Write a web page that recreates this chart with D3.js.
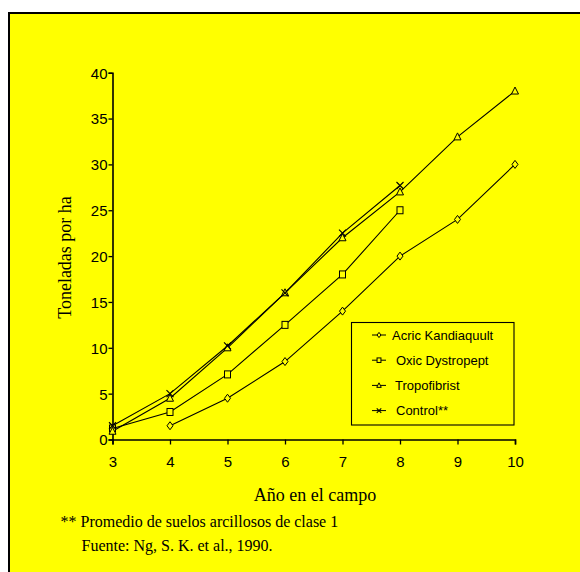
<!DOCTYPE html>
<html><head><meta charset="utf-8">
<script src="https://cdn.jsdelivr.net/npm/d3@7"></script>
<style>html,body{margin:0;padding:0;background:#fff;}svg{display:block;}</style>
</head><body>
<script>
const years = [3,4,5,6,7,8,9,10];
const yTicks = [0,5,10,15,20,25,30,35,40];
const seriesNames = ["Acric Kandiaquult","Oxic Dystropept","Tropofibrist","Control**"];
const acricYears = [4,5,6,7,8,9,10];
const acricValues = [1.5,4.5,8.5,14,20,24,30];
const oxicYears = [3,4,5,6,7,8];
const oxicValues = [1.2,3,7.1,12.5,18,25];
const tropoYears = [3,4,5,6,7,8,9,10];
const tropoValues = [0.9,4.5,10,16,22,27,33,38];
const controlYears = [3,4,5,6,7,8];
const controlValues = [1.5,5,10.2,16,22.5,27.7];
const markers = ["diamond","square","triangle","cross"];
const yTitle = "Toneladas por ha";
const xTitle = "Año en el campo";
const notes = ["** Promedio de suelos arcillosos de clase 1","Fuente: Ng, S. K. et al., 1990."];

const W=580,H=572;
const svg=d3.select("body").append("svg").attr("width",W).attr("height",H);
svg.append("rect").attr("x",9).attr("y",13).attr("width",700).attr("height",700)
  .attr("fill","#ffff00").attr("stroke","#000").attr("stroke-width",2);

const x=d3.scaleLinear().domain([3,10]).range([112.5,515]);
const y=d3.scaleLinear().domain([0,40]).range([439.5,72.7]);

const sans="Liberation Sans, Arial, sans-serif";
const serif="Liberation Serif, Times New Roman, serif";

const xa=svg.append("g").attr("transform",`translate(0,${y(0)})`)
  .call(d3.axisBottom(x).tickValues(years).tickFormat(d3.format("d")).tickSizeOuter(0).tickSize(5).tickPadding(12));
const ya=svg.append("g").attr("transform",`translate(${x(3)},0)`)
  .call(d3.axisLeft(y).tickValues(yTicks).tickSizeOuter(0).tickSize(4).tickPadding(1));
[xa,ya].forEach(a=>{
  a.select(".domain").attr("stroke","#000").attr("stroke-width",1.6);
  a.selectAll(".tick line").attr("stroke","#000").attr("stroke-width",1.3);
  a.selectAll("text").attr("font-family",sans).attr("font-size",15).attr("fill","#000");
});
ya.selectAll("text").attr("dy","0.36em");

function drawMarker(g,type,cx,cy,k){
  k=k||1;
  const s="#000",f="#ffff00",sw=1;
  if(type==="diamond"){
    g.append("path").attr("d",`M${cx},${cy-4*k}L${cx+3*k},${cy}L${cx},${cy+4*k}L${cx-3*k},${cy}Z`).attr("fill",f).attr("stroke",s).attr("stroke-width",sw);
  } else if(type==="square"){
    g.append("rect").attr("x",cx-3*k).attr("y",cy-3.5*k).attr("width",6*k).attr("height",7*k).attr("fill",f).attr("stroke",s).attr("stroke-width",sw);
  } else if(type==="triangle"){
    g.append("path").attr("d",`M${cx},${cy-4*k}L${cx+3.5*k},${cy+3*k}L${cx-3.5*k},${cy+3*k}Z`).attr("fill",f).attr("stroke",s).attr("stroke-width",sw);
  } else {
    g.append("path").attr("d",`M${cx-3.5*k},${cy-3.5*k}L${cx+3.5*k},${cy+3.5*k}M${cx+3.5*k},${cy-3.5*k}L${cx-3.5*k},${cy+3.5*k}`).attr("stroke",s).attr("stroke-width",1.1).attr("fill","none");
  }
}

const seriesX=[acricYears,oxicYears,tropoYears,controlYears];
const seriesY=[acricValues,oxicValues,tropoValues,controlValues];
const line=d3.line().x(d=>x(d[0])).y(d=>y(d[1]));
const plot=svg.append("g");
seriesX.forEach((xs,i)=>{
  const pts=xs.map((v,j)=>[v,seriesY[i][j]]);
  plot.append("path").attr("d",line(pts)).attr("fill","none").attr("stroke","#000").attr("stroke-width",1.1);
});
seriesX.forEach((xs,i)=>{
  xs.forEach((v,j)=>drawMarker(plot,markers[i],x(v),y(seriesY[i][j])));
});

// legend
const lg=svg.append("g");
lg.append("rect").attr("x",351.5).attr("y",322.5).attr("width",162.5).attr("height",102.5)
  .attr("fill","none").attr("stroke","#000").attr("stroke-width",1.1);
const lx=[392,396,395,396];
seriesNames.forEach((n,i)=>{
  const cy=335+i*25.2;
  lg.append("line").attr("x1",372).attr("x2",386).attr("y1",cy).attr("y2",cy).attr("stroke","#000").attr("stroke-width",1);
  drawMarker(lg,markers[i],379,cy,0.65);
  lg.append("text").attr("x",lx[i]).attr("y",cy).attr("dy","0.36em").attr("font-family",sans)
    .attr("font-size",13).attr("fill","#000").text(n);
});

// titles
svg.append("text").attr("transform",`translate(70.5,257.5) rotate(-90)`).attr("text-anchor","middle")
  .attr("font-family",serif).attr("font-size",18).attr("fill","#000").text(yTitle);
svg.append("text").attr("x",315).attr("y",501).attr("text-anchor","middle")
  .attr("font-family",serif).attr("font-size",18).attr("fill","#000").text(xTitle);
svg.append("text").attr("x",60.5).attr("y",527).attr("font-family",serif)
  .attr("font-size",16).attr("fill","#000").text(notes[0]);
svg.append("text").attr("x",81.5).attr("y",551).attr("font-family",serif)
  .attr("font-size",16).attr("fill","#000").text(notes[1]);
</script>
</body></html>
